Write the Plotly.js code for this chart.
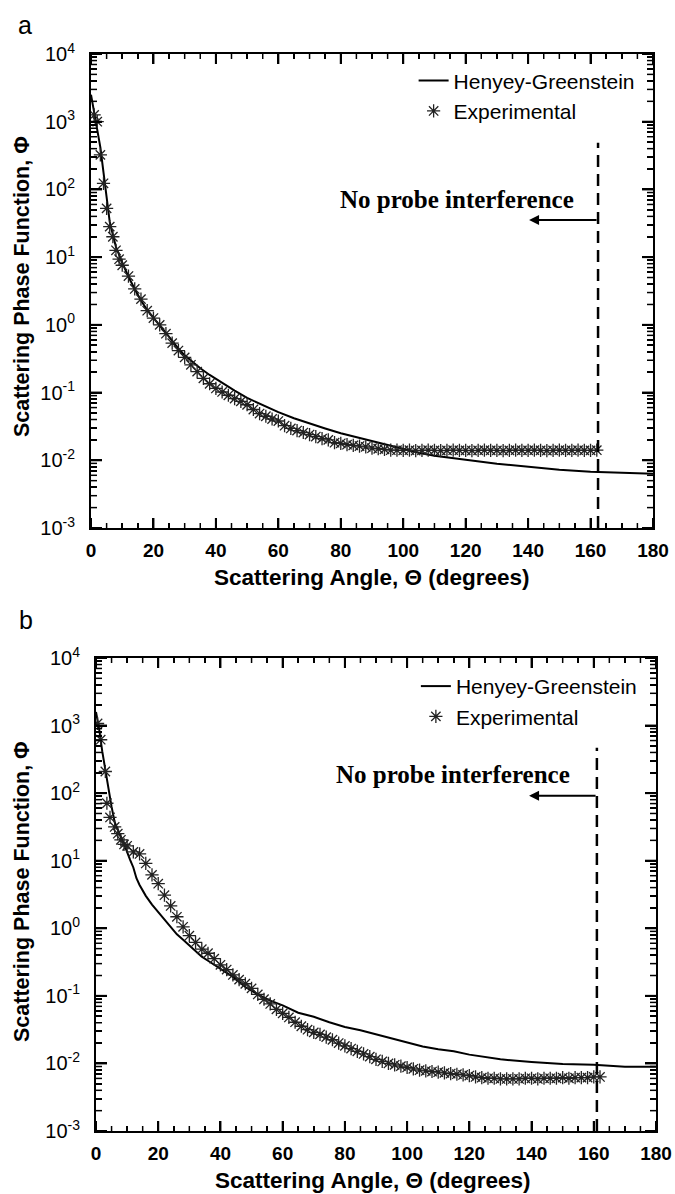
<!DOCTYPE html>
<html>
<head>
<meta charset="utf-8">
<script src="https://cdn.plot.ly/plotly-3.0.1.min.js"></script>
<style>html,body{margin:0;padding:0;background:#fff;}#chart{width:675px;height:1194px;}</style>
</head>
<body>
<div id="chart"></div>
<script>
// ---------- Panel a ----------
const hgAngleA = [0,1,2,3,4,5,6,7,8,10,12,14,16,18,20,22,24,26,28,30,32,35,38,42,46,50,55,60,65,70,75,80,85,90,95,100,105,110,115,120,130,140,150,160,170,180];
const hgPhaseA = [2512,1413,832,417,178,70.8,33.1,21.4,14.1,8.32,5.13,3.39,2.29,1.66,1.26,0.977,0.759,0.575,0.447,0.355,0.295,0.229,0.182,0.138,0.107,0.0832,0.0646,0.0513,0.0417,0.0347,0.0295,0.0251,0.0219,0.0191,0.0166,0.0145,0.0129,0.0117,0.0110,0.0102,0.00891,0.00794,0.00724,0.00676,0.00646,0.00631];

const expAngleA = [1,2,3,4,5,6,7,8,9,10,12,14,16,18,20,22,24,26,28,30,32,34,36,38,40,42,44,46,48,50,52,54,56,58,60,62,64,66,68,70,72,74,76,78,80,82,84,86,88,90,92,94,96,98,100,102,104,106,108,110,112,114,116,118,120,122,124,126,128,130,132,134,136,138,140,142,144,146,148,150,152,154,156,158,160,162];
const expPhaseA = [1259,1000,324,123,52.5,28.2,20.0,12.6,9.33,7.59,
  5.25,3.39,2.40,1.62,1.26,1.00,0.741,0.537,0.417,0.331,
  0.257,0.204,0.162,0.135,0.115,0.102,0.0912,0.0813,0.0741,0.0661,
  0.0562,0.0490,0.0447,0.0407,0.0380,0.0324,0.0295,0.0275,0.0257,0.0240,
  0.0224,0.0209,0.0200,0.0182,0.0178,0.0170,0.0166,0.0162,0.0158,0.0151,
  0.0148,0.0145,0.0141,0.0141,
  0.0140,0.0141,0.0139,0.0140,0.0141,0.0140,0.0139,0.0140,0.0141,0.0140,
  0.0140,0.0139,0.0140,0.0141,0.0140,0.0140,0.0139,0.0140,0.0141,0.0140,
  0.0140,0.0141,0.0140,0.0139,0.0140,0.0141,0.0140,0.0140,0.0141,0.0140,
  0.0140,0.0141];

// ---------- Panel b ----------
const hgAngleB = [0,1,2,3,4,5,6,7,8,9,10,11,12,13,14,16,18,20,22,24,26,28,30,32,34,36,40,44,48,52,56,60,65,70,75,80,85,90,95,100,105,110,115,120,125,130,140,150,160,170,180];
const hgPhaseB = [1585,891,417,214,120,63.1,37.2,28.2,22.4,17.8,13.2,10.2,7.94,5.50,4.37,
  3.02,2.24,1.74,1.35,1.02,0.813,0.676,0.562,0.457,0.380,0.331,
  0.251,0.191,0.135,0.105,0.0851,0.0724,
  0.0562,0.0490,0.0407,0.0347,0.0309,0.0269,0.0234,0.0200,0.0178,0.0162,0.0151,0.0135,0.0123,0.0115,
  0.0105,0.00977,0.00955,0.00891,0.00891];

const expAngleB = [0.5,1.5,3,3.5,4.5,6,7,8,9,10,12,14,16,18,20,22,24,26,28,30,32,34,36,38,40,42,44,46,48,50,52,54,56,58,60,62,64,66,68,70,72,74,76,78,80,82,84,86,88,90,92,94,96,98,100,102,104,106,108,110,112,114,116,118,120,122,124,126,128,130,132,134,136,138,140,142,144,146,148,150,152,154,156,158,160,162];
const expPhaseB = [1072,617,209,70.8,43.7,31.6,25.1,20.4,17.4,16.6,
  13.5,12.6,9.12,6.17,4.57,3.09,2.14,1.48,1.05,0.776,
  0.617,0.490,0.427,0.355,0.288,0.245,0.204,0.174,0.151,0.129,
  0.105,0.0891,0.0759,0.0631,0.0550,0.0479,0.0407,0.0355,0.0316,0.0288,
  0.0269,0.0245,0.0224,0.0200,0.0182,0.0166,0.0151,0.0138,0.0126,0.0115,
  0.0107,0.0100,0.00955,0.00912,0.00871,0.00832,0.00794,0.00776,0.00759,0.00741,
  0.00724,0.00708,0.00692,0.00676,0.00661,0.00631,0.00617,0.00603,0.00603,0.00589,
  0.00589,0.00589,0.00589,0.00603,0.00603,0.00589,0.00603,0.00603,0.00603,0.00617,
  0.00603,0.00617,0.00617,0.00617,0.00631,0.00631];

// probe-interference limit (degrees) for panels a and b
const probeLimit = [162.4, 161];

// axis ticks and texts
const yTickVals = [1e-3,1e-2,1e-1,1,10,100,1000,10000];
const yTickText = ['10<sup>-3</sup>','10<sup>-2</sup>','10<sup>-1</sup>','10<sup>0</sup>','10<sup>1</sup>','10<sup>2</sup>','10<sup>3</sup>','10<sup>4</sup>'];
const seriesNames = ['Henyey-Greenstein','Experimental'];
const panelLabels = ['a','b'];
const xTitle = '<b>Scattering Angle, Θ (degrees)</b>';
const yTitle = '<b>Scattering Phase Function, Φ</b>';
const noteText = '<b>No probe interference</b>';

const FONT = 'Liberation Sans, Arial, sans-serif';
const SERIF = 'Liberation Serif, Times New Roman, serif';

function lineTrace(x, y, xa, ya, lg){
  return {x:x, y:y, xaxis:xa, yaxis:ya, type:'scatter', mode:'lines', name:seriesNames[0],
    line:{color:'#000', width:2}, legend:lg};
}
function markTrace(x, y, xa, ya, lg){
  return {x:x, y:y, xaxis:xa, yaxis:ya, type:'scatter', mode:'markers', name:seriesNames[1],
    marker:{symbol:'asterisk-open', size:11, color:'#222', line:{color:'#2a2a2a', width:1.3}}, legend:lg};
}

const data = [
  lineTrace(hgAngleA, hgPhaseA, 'x', 'y', 'legend'),
  markTrace(expAngleA, expPhaseA, 'x', 'y', 'legend'),
  lineTrace(hgAngleB, hgPhaseB, 'x2', 'y2', 'legend2'),
  markTrace(expAngleB, expPhaseB, 'x2', 'y2', 'legend2')
];

function xAxis(domain, anchor){
  return {domain:domain, anchor:anchor, range:[0,180], dtick:20,
    ticks:'inside', ticklen:10, tickwidth:2, tickcolor:'#000',
    minor:{dtick:5, ticks:'inside', ticklen:5, tickwidth:1.5, tickcolor:'#000'},
    showline:true, linewidth:2, linecolor:'#000', mirror:'allticks', showgrid:false, zeroline:false,
    tickfont:{family:FONT, size:19, weight:'bold'}, ticklabelstandoff:4};
}
function yAxis(domain, anchor){
  return {domain:domain, anchor:anchor, type:'log', range:[-3,4],
    tickmode:'array', tickvals:yTickVals, ticktext:yTickText,
    ticks:'inside', ticklen:11, tickwidth:2, tickcolor:'#000',
    minor:{dtick:'D1', ticks:'inside', ticklen:6, tickwidth:1.5, tickcolor:'#000'},
    showline:true, linewidth:2, linecolor:'#000', mirror:'allticks', showgrid:false, zeroline:false,
    tickfont:{family:FONT, size:20}, ticklabelstandoff:10};
}

// inside tick marks on all four sides of a panel, drawn as decoration lines in axis-domain units
function tickMarks(f){
  const out = [];
  const xd = f.xa + ' domain', yd = f.ya + ' domain';
  function add(o){ out.push(Object.assign({type:'line', layer:'above'}, o)); }
  for(let v = 0; v <= 180; v += 5){
    const major = (v % 20 === 0);
    const L = (major ? 10 : 5) / f.h, w = major ? 2 : 1.5;
    add({xref:f.xa, yref:yd, x0:v, x1:v, y0:0, y1:L, line:{color:'#000', width:w}});
    add({xref:f.xa, yref:yd, x0:v, x1:v, y0:1, y1:1 - L, line:{color:'#000', width:w}});
  }
  for(let k = -3; k <= 4; k++){
    for(let m = 1; m <= 9; m++){
      if(k === 4 && m > 1) break;
      const fr = (k + Math.log10(m) + 3) / 7;
      const major = (m === 1);
      const L = (major ? 11 : 6) / f.w, w = major ? 2 : 1.5;
      add({xref:xd, yref:yd, x0:0, x1:L, y0:fr, y1:fr, line:{color:'#000', width:w}});
      add({xref:xd, yref:yd, x0:1, x1:1 - L, y0:fr, y1:fr, line:{color:'#000', width:w}});
    }
  }
  return out;
}
const panelFrames = [{xa:'x', ya:'y', w:562, h:474}, {xa:'x2', ya:'y2', w:560, h:473}];

const legendStyle = {xanchor:'right', yanchor:'top', bgcolor:'rgba(0,0,0,0)', borderwidth:0,
  font:{family:FONT, size:21, color:'#000'}, tracegroupgap:0};

function txt(x, y, text, size, extra){
  return Object.assign({xref:'paper', yref:'paper', x:x, y:y, text:text, showarrow:false,
    font:{family:FONT, size:size, color:'#000'}, xanchor:'center', yanchor:'middle'}, extra||{});
}

const layout = {
  width:675, height:1194,
  margin:{l:91, r:19, t:54, b:63},
  font:{family:FONT, color:'#000'},
  showlegend:true,
  xaxis: xAxis([0, 0.9947], 'y'),
  yaxis: yAxis([0.5599, 1], 'x'),
  xaxis2: xAxis([0.00885, 1], 'y2'),
  yaxis2: yAxis([0, 0.4392], 'x2'),
  legend: Object.assign({x:0.971, y:0.994}, legendStyle),
  legend2: Object.assign({x:0.975, y:0.4318}, legendStyle),
  shapes:[
    {type:'line', xref:'x', yref:'y domain', x0:probeLimit[0], x1:probeLimit[0], y0:0, y1:0.813,
     line:{color:'#000', width:2.5, dash:'12px,7px'}},
    {type:'line', xref:'x2', yref:'y2 domain', x0:probeLimit[1], x1:probeLimit[1], y0:0, y1:0.81,
     line:{color:'#000', width:2.5, dash:'12px,7px'}}
  ].concat(tickMarks(panelFrames[0]), tickMarks(panelFrames[1])),
  annotations:[
    txt(-0.1168, 1.027, panelLabels[0], 25),
    txt(-0.1150, 0.4745, panelLabels[1], 25),
    txt(0.4956, 0.5135, xTitle, 22.5),
    txt(0.4990, -0.0464, xTitle, 22.5),
    txt(-0.1221, 0.7837, yTitle, 21.5, {textangle:-90}),
    txt(-0.1221, 0.2219, yTitle, 21.5, {textangle:-90}),
    {xref:'x', yref:'y domain', x:117.2, y:0.7255, text:noteText, showarrow:false,
     font:{family:SERIF, size:25, color:'#000'}},
    {xref:'x2', yref:'y2 domain', x:114.6, y:0.7866, text:noteText, showarrow:false,
     font:{family:SERIF, size:25, color:'#000'}},
    {xref:'x', yref:'y domain', x:140.3, y:0.65, text:'', showarrow:true, axref:'pixel', ayref:'pixel',
     ax:69, ay:0, arrowhead:2, arrowsize:1, arrowwidth:2, arrowcolor:'#000', standoff:0, startstandoff:0},
    {xref:'x2', yref:'y2 domain', x:139.2, y:0.709, text:'', showarrow:true, axref:'pixel', ayref:'pixel',
     ax:68, ay:0, arrowhead:2, arrowsize:1, arrowwidth:2, arrowcolor:'#000', standoff:0, startstandoff:0}
  ]
};

Plotly.newPlot('chart', data, layout, {staticPlot:true, displayModeBar:false});
</script>
</body>
</html>
